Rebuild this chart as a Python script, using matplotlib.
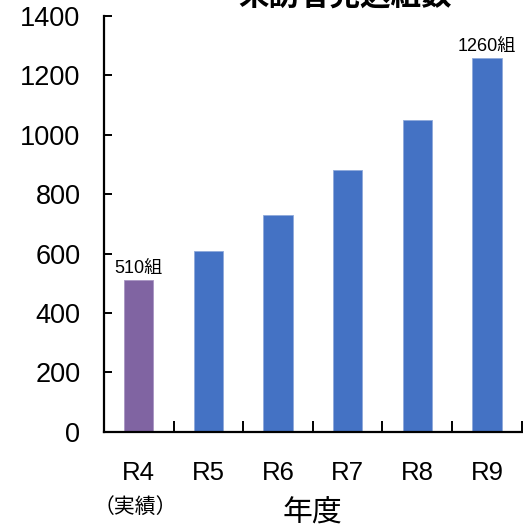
import matplotlib
matplotlib.use("Agg")
import matplotlib.pyplot as plt
import numpy as np

plt.rcParams['font.family'] = ['Liberation Sans', 'Noto Sans CJK JP', 'DejaVu Sans']

# visitor group counts per fiscal year (R4 is the actual result)
years = ['R4', 'R5', 'R6', 'R7', 'R8', 'R9']
groups = [510, 610, 730, 880, 1050, 1260]
bar_colors = ['#8064A2', '#4472C4', '#4472C4', '#4472C4', '#4472C4', '#4472C4']
edge_colors = ['#A895C2', '#8EA9DB', '#8EA9DB', '#8EA9DB', '#8EA9DB', '#8EA9DB']
labelled = {0: '510組', 5: '1260組'}
y_ticks = [0, 200, 400, 600, 800, 1000, 1200, 1400]

fig = plt.figure(figsize=(5.23, 5.30), dpi=100)
ax = fig.add_axes([0.1989, 0.1855, 0.7986, 0.7843])

x = np.arange(len(years))
ax.bar(x, groups, width=0.42, color=bar_colors, edgecolor=edge_colors, linewidth=0.6, zorder=2)

for i, txt in labelled.items():
    ax.annotate(txt, (x[i], groups[i]), xytext=(0, 2), textcoords='offset points',
                ha='center', va='bottom', fontsize=13)

ax.set_xlim(-0.5, len(years) - 0.5)
ax.set_ylim(0, 1400)
ax.set_yticks(y_ticks)
ax.tick_params(axis='y', direction='in', length=6, width=1.4, labelsize=19.5, pad=17)

# category boundaries carry the ticks, names sit under the bar centres
ax.set_xticks(np.arange(-0.5, len(years), 1.0))
ax.set_xticklabels([])
ax.tick_params(axis='x', direction='in', length=8, width=1.4)
xt = ax.get_xaxis_transform()
for xi, name in zip(x, years):
    ax.text(xi, -0.099, name, transform=xt, ha='center', va='center', fontsize=18.5)
ax.text(x[0] - 0.05, -0.181, '（実績）', transform=xt, ha='center', va='center', fontsize=15)
ax.text(0.5, -0.197, '年度', transform=ax.transAxes, ha='center', va='center', fontsize=21.5)

for side in ['top', 'right']:
    ax.spines[side].set_visible(False)
for side in ['left', 'bottom']:
    ax.spines[side].set_linewidth(1.6)

fig.text(0.66, 1 - 12 / 530, '来訪者見込組数', ha='center', va='bottom',
         fontsize=22, fontweight='bold')

fig.savefig('out.png', dpi=100)
